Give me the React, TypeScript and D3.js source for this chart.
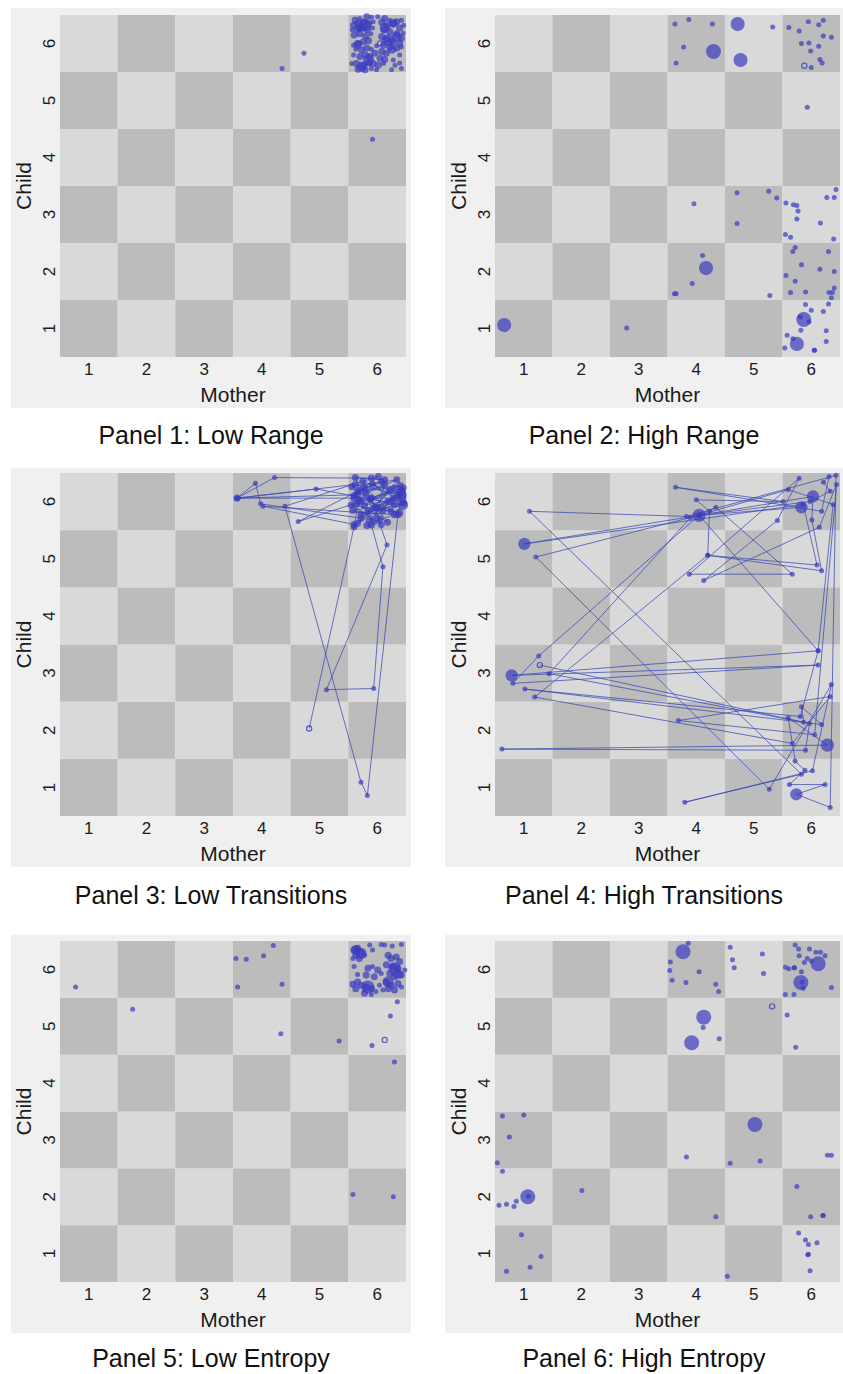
import React from 'react';
import * as d3 from 'd3';

// [mother, child, weight]
type Obs = [number, number, number];

const levels = [1, 2, 3, 4, 5, 6];
const xTitle = 'Mother';
const yTitle = 'Child';
const captions = [
  'Panel 1: Low Range',
  'Panel 2: High Range',
  'Panel 3: Low Transitions',
  'Panel 4: High Transitions',
  'Panel 5: Low Entropy',
  'Panel 6: High Entropy',
];

const lowRange: Obs[] = [
  [4.35, 5.56, 1], [4.73, 5.83, 1], [5.92, 4.32, 1],
  [5.62, 6.41, 2], [5.70, 6.44, 1], [5.82, 6.47, 2], [5.90, 6.46, 1], [6.01, 6.47, 1], [6.13, 6.44, 2],
  [6.22, 6.41, 1], [6.34, 6.38, 2], [6.42, 6.41, 1], [6.46, 6.32, 1], [5.59, 6.32, 2], [5.67, 6.35, 2],
  [5.76, 6.37, 2], [5.85, 6.35, 2], [5.93, 6.38, 1], [6.08, 6.37, 2], [6.18, 6.32, 2], [6.28, 6.34, 2],
  [6.39, 6.27, 2], [6.45, 6.18, 1], [5.57, 6.24, 1], [5.66, 6.25, 2], [5.74, 6.27, 2], [5.83, 6.24, 2],
  [5.92, 6.27, 1], [6.12, 6.24, 2], [6.22, 6.21, 2], [6.34, 6.17, 2], [6.42, 6.09, 2], [5.60, 6.15, 2],
  [5.70, 6.17, 2], [5.80, 6.13, 2], [5.89, 6.17, 1], [6.08, 6.12, 2], [6.18, 6.07, 2], [6.28, 6.03, 2],
  [6.39, 6.00, 2], [5.59, 5.97, 1], [5.67, 6.00, 2], [5.76, 6.03, 2], [5.85, 6.05, 2], [6.11, 5.97, 2],
  [6.22, 5.94, 2], [6.34, 5.92, 2], [6.42, 5.94, 1], [5.63, 5.90, 1], [5.73, 5.89, 2], [5.82, 5.92, 2],
  [5.90, 5.90, 1], [5.99, 5.96, 1], [6.08, 5.86, 2], [6.16, 5.83, 2], [5.59, 5.80, 1], [5.70, 5.77, 2],
  [5.79, 5.80, 2], [5.87, 5.77, 2], [5.96, 5.83, 2], [6.05, 5.74, 2], [6.13, 5.72, 2], [6.28, 5.71, 1],
  [6.39, 5.80, 1], [5.56, 5.65, 1], [5.64, 5.65, 2], [5.76, 5.62, 2], [5.85, 5.66, 2], [5.93, 5.65, 2],
  [6.02, 5.62, 2], [6.11, 5.65, 1], [6.31, 5.62, 1], [6.39, 5.66, 1], [5.67, 5.55, 2], [5.79, 5.54, 2],
  [5.90, 5.56, 1], [5.99, 5.54, 1], [6.25, 5.54, 1], [6.42, 5.56, 1],
  [5.79, 6.32, 6], [6.19, 6.06, 6], [5.85, 5.71, 5], [5.73, 5.59, 4], [6.13, 6.27, 4], [6.34, 6.12, 4],
  [5.70, 6.28, 3], [6.28, 6.36, 3], [6.26, 5.90, 3], [5.66, 5.98, 3],
];
const lowRangeEnd: [number, number] = [6.05, 6.0];

const highRange: Obs[] = [
  [3.63, 6.34, 1], [3.87, 6.42, 1], [4.28, 6.34, 1], [3.78, 5.94, 1], [3.65, 5.66, 1], [4.30, 5.86, 9],
  [4.72, 6.34, 8], [4.77, 5.71, 8], [5.33, 6.29, 1],
  [5.61, 6.28, 1], [5.95, 6.38, 1], [6.21, 6.41, 1], [6.13, 6.33, 1], [5.79, 6.22, 1], [6.21, 6.13, 1],
  [6.35, 6.11, 1], [5.83, 6.00, 1], [5.96, 6.01, 1], [6.13, 5.95, 1], [5.99, 5.87, 1], [6.15, 5.72, 1],
  [6.19, 5.66, 1], [6.00, 5.58, 1],
  [5.93, 4.88, 1],
  [3.96, 3.19, 1], [4.71, 3.38, 1], [5.26, 3.41, 1], [5.40, 3.29, 1], [4.71, 2.84, 1],
  [5.56, 3.20, 1], [5.69, 3.17, 1], [5.75, 3.16, 1], [5.77, 3.06, 1], [5.75, 2.92, 1], [6.16, 2.85, 1],
  [6.27, 3.30, 1], [6.40, 3.30, 1], [6.43, 3.44, 1], [5.55, 2.65, 1], [5.64, 2.60, 1], [6.39, 2.57, 1],
  [4.11, 2.28, 1], [4.17, 2.06, 8], [3.93, 1.79, 1], [3.62, 1.61, 1], [3.65, 1.61, 1], [5.28, 1.58, 1],
  [5.72, 2.42, 1], [5.68, 2.35, 1], [6.30, 2.35, 1], [5.83, 2.12, 1], [6.15, 2.04, 1], [6.40, 2.00, 1],
  [5.56, 1.93, 1], [5.72, 1.83, 1], [5.64, 1.63, 1], [5.90, 1.64, 1], [6.31, 1.63, 1], [6.40, 1.71, 1],
  [6.37, 1.63, 1], [6.35, 1.54, 1],
  [5.90, 1.42, 1], [6.30, 1.43, 1], [6.00, 1.32, 1], [6.21, 1.30, 1], [5.87, 1.16, 9], [5.81, 1.20, 1],
  [5.96, 1.12, 1], [5.82, 0.97, 1], [5.58, 0.88, 1], [6.26, 0.96, 1], [5.75, 0.73, 8], [5.68, 0.82, 1],
  [6.26, 0.77, 1], [5.54, 0.66, 1], [6.05, 0.62, 1], [6.06, 0.62, 1],
  [0.66, 1.06, 8], [2.79, 1.01, 1],
];
const highRangeEnd: [number, number] = [5.88, 5.61];

// visits in order (joined by a line)
const lowTransitions: Obs[] = [
  [6.07, 6.35, 2], [5.66, 6.18, 2], [6.30, 6.24, 2], [5.78, 5.94, 2], [6.42, 6.06, 4], [5.60, 6.06, 2],
  [3.57, 6.06, 2], [3.89, 6.32, 1], [3.98, 5.96, 1], [5.72, 5.71, 2], [6.19, 6.00, 2], [5.90, 6.41, 2],
  [4.22, 6.42, 1], [3.57, 6.06, 1], [5.62, 6.30, 2], [6.36, 6.12, 2], [5.84, 5.83, 2], [6.45, 5.94, 4],
  [4.94, 6.22, 1], [3.57, 6.06, 1], [5.66, 6.12, 2], [6.13, 6.30, 2], [5.95, 5.65, 2], [6.30, 5.77, 2],
  [4.02, 5.92, 1], [5.60, 5.60, 2], [6.01, 5.89, 2], [6.42, 6.18, 3], [5.72, 6.00, 2],
  [4.63, 5.65, 1], [5.78, 6.24, 2], [6.24, 5.83, 2], [5.55, 5.94, 2], [6.07, 5.60, 2],
  [5.62, 6.42, 2], [6.13, 6.38, 2], [5.70, 6.20, 2], [6.40, 6.28, 2], [5.88, 6.05, 2], [6.30, 5.96, 3],
  [5.58, 5.85, 2], [6.05, 5.70, 2], [5.75, 6.35, 2], [6.44, 6.12, 3], [5.66, 5.62, 2], [6.22, 6.20, 2],
  [5.95, 5.90, 2], [6.38, 5.80, 3], [5.60, 6.10, 2], [6.02, 6.44, 2],
  [4.40, 5.92, 1], [5.72, 1.09, 1], [5.83, 0.86, 1], [6.36, 5.77, 2], [6.45, 6.24, 2], [5.90, 6.06, 2],
  [6.17, 5.24, 1], [5.12, 2.71, 1], [5.94, 2.73, 1], [6.10, 4.86, 1], [5.90, 5.59, 2],
  [5.82, 5.58, 2], [6.28, 6.06, 2], [5.72, 5.78, 2], [6.46, 5.98, 2], [5.92, 6.30, 2], [5.64, 5.96, 2],
  [6.18, 5.64, 2], [5.80, 6.14, 2], [6.34, 6.38, 2], [5.56, 6.26, 2], [6.10, 5.84, 2], [5.86, 5.68, 2],
  [6.42, 6.20, 2], [5.68, 6.02, 2], [5.60, 5.56, 2],
];
const lowTransitionsEnd: [number, number] = [4.82, 2.03];

const highTransitions: Obs[] = [
  [5.83, 5.90, 6], [4.05, 5.76, 7], [5.98, 6.00, 1], [6.33, 6.18, 1], [6.21, 6.34, 1],
  [6.31, 6.44, 1], [6.18, 5.83, 1], [3.64, 6.25, 1], [5.51, 6.00, 1], [4.00, 6.03, 1], [4.23, 5.83, 1],
  [4.20, 5.06, 1], [6.10, 4.89, 1], [5.86, 5.95, 1], [1.01, 5.26, 6], [4.05, 5.76, 1], [1.21, 5.03, 1],
  [5.27, 0.97, 1], [6.35, 2.80, 1], [6.02, 1.29, 1], [3.80, 0.74, 1], [5.83, 1.23, 1], [1.10, 5.83, 1],
  [3.83, 5.74, 1], [6.43, 6.46, 1],
  [6.33, 0.65, 1], [5.74, 0.88, 6], [6.24, 1.05, 1], [5.62, 1.05, 1], [5.89, 1.30, 1], [5.72, 1.46, 1],
  [5.60, 2.22, 1], [6.28, 1.74, 7], [0.62, 1.67, 1], [5.90, 1.65, 1], [5.97, 2.12, 1], [1.44, 2.99, 1],
  [3.90, 5.72, 1], [5.60, 6.21, 1], [6.38, 5.95, 1], [6.12, 3.39, 1], [0.79, 2.96, 6], [6.12, 3.14, 1],
  [0.81, 2.82, 1], [1.26, 3.30, 1], [4.05, 5.76, 1], [4.34, 5.90, 1], [5.67, 4.73, 1], [3.88, 4.73, 1],
  [5.79, 6.41, 1], [5.41, 5.67, 1], [4.13, 4.62, 1], [6.14, 5.55, 1], [6.44, 6.30, 1], [6.06, 1.92, 1],
  [3.69, 2.17, 1], [6.33, 2.59, 1], [5.67, 1.77, 1], [1.19, 2.58, 1], [4.20, 5.06, 1], [6.18, 4.79, 1],
  [6.01, 5.68, 1], [6.03, 6.09, 6], [4.05, 5.76, 1], [6.12, 3.39, 1], [5.81, 2.24, 1], [1.02, 2.72, 1],
  [6.18, 2.10, 1], [5.83, 2.41, 1], [5.87, 2.14, 1],
];
const highTransitionsEnd: [number, number] = [1.28, 3.14];

const lowEntropy: Obs[] = [
  [3.55, 6.19, 1], [3.73, 6.18, 1], [4.03, 6.24, 1], [4.20, 6.42, 1], [3.58, 5.69, 1], [4.35, 5.74, 1],
  [4.33, 4.87, 1], [5.34, 4.74, 1], [6.35, 5.43, 1], [6.23, 5.18, 1], [5.91, 4.66, 1], [6.30, 4.37, 1],
  [0.77, 5.69, 1], [1.76, 5.30, 1], [5.58, 2.04, 1], [6.28, 2.00, 1],
  [5.60, 6.34, 2], [5.66, 6.37, 2], [5.72, 6.31, 2], [5.63, 6.25, 2], [5.58, 6.19, 1], [5.69, 6.19, 2],
  [5.78, 6.25, 1], [5.87, 6.43, 1], [5.92, 6.34, 1], [6.07, 6.44, 1], [6.13, 6.43, 1], [6.26, 6.41, 1],
  [6.42, 6.44, 1], [5.60, 6.05, 1], [5.66, 5.91, 1], [5.58, 5.74, 2], [5.63, 5.66, 2], [5.72, 5.72, 2],
  [5.81, 5.69, 2], [5.90, 5.66, 2], [5.98, 5.61, 1], [5.78, 5.58, 2], [5.90, 5.56, 1], [5.66, 5.78, 2],
  [5.84, 6.02, 2], [5.92, 6.05, 1], [6.01, 5.99, 2], [5.81, 5.90, 2], [5.95, 5.87, 2], [6.07, 5.93, 1],
  [6.19, 6.25, 2], [6.24, 6.19, 2], [6.33, 6.22, 2], [6.39, 6.14, 2], [6.16, 6.08, 2], [6.27, 6.05, 2],
  [6.36, 6.02, 2], [6.22, 5.93, 2], [6.30, 5.87, 2], [6.42, 5.90, 2], [6.16, 5.78, 2], [6.24, 5.72, 2],
  [6.36, 5.75, 2], [6.19, 5.66, 2], [6.30, 5.64, 2], [6.04, 5.72, 1], [6.10, 5.64, 1], [6.42, 5.69, 1],
  [6.48, 5.99, 1],
  [5.72, 6.28, 5], [5.84, 5.69, 7], [6.30, 6.02, 6], [6.19, 5.78, 5], [5.63, 6.34, 4], [6.36, 5.92, 4],
];
const lowEntropyEnd: [number, number] = [6.13, 4.76];

const highEntropy: Obs[] = [
  [3.77, 6.31, 9], [3.86, 6.46, 1], [3.55, 6.13, 1], [3.54, 5.98, 1], [3.58, 5.81, 1], [3.82, 5.77, 1],
  [4.05, 5.96, 1], [4.34, 5.74, 1], [4.39, 5.61, 1], [4.59, 6.39, 1], [4.63, 6.17, 1], [4.66, 6.03, 1],
  [5.15, 6.27, 1], [5.17, 5.93, 1],
  [5.72, 6.43, 1], [5.78, 6.36, 1], [5.97, 6.36, 1], [6.08, 6.30, 1], [6.16, 6.30, 1], [6.24, 6.24, 1],
  [5.79, 6.24, 1], [5.93, 6.19, 1], [5.88, 6.12, 1], [6.00, 6.15, 1], [6.12, 6.10, 9], [5.55, 6.04, 1],
  [5.61, 6.01, 1], [5.70, 6.03, 1], [5.71, 6.03, 1], [5.83, 5.96, 1], [5.82, 5.77, 9], [5.84, 5.78, 1],
  [5.86, 5.67, 1], [5.55, 5.56, 1], [5.70, 5.56, 1], [6.35, 5.68, 1],
  [4.13, 5.16, 9], [4.12, 4.98, 1], [3.92, 4.71, 9], [4.40, 4.78, 1], [5.58, 5.20, 1], [5.73, 4.63, 1],
  [0.63, 3.42, 1], [1.00, 3.44, 1], [0.75, 3.05, 1], [0.54, 2.60, 1], [0.63, 2.45, 1], [3.83, 2.70, 1],
  [5.02, 3.27, 9], [4.59, 2.59, 1], [5.11, 2.63, 1], [6.28, 2.73, 1], [6.35, 2.73, 1],
  [1.07, 2.00, 9], [1.08, 2.01, 1], [0.57, 1.85, 1], [0.70, 1.87, 1], [0.83, 1.83, 1], [0.87, 1.92, 1],
  [2.01, 2.11, 1], [4.34, 1.65, 1], [5.75, 2.18, 1], [5.99, 1.65, 1], [6.20, 1.67, 1], [6.21, 1.67, 1],
  [0.96, 1.33, 1], [1.30, 0.95, 1], [1.11, 0.76, 1], [0.70, 0.69, 1], [4.54, 0.60, 1], [5.78, 1.36, 1],
  [5.90, 1.24, 1], [5.95, 1.16, 1], [6.10, 1.19, 1], [5.94, 0.98, 1], [5.95, 0.99, 1], [5.98, 0.70, 1],
];
const highEntropyEnd: [number, number] = [5.32, 5.35];

const FONT = '"Liberation Sans", Arial, Helvetica, sans-serif';
const LIGHT = '#d9d9d9';
const DARK = '#bcbcbc';
const FRAME = '#f0f0f0';
const DOT = '#3b3bbf';
const LINE = '#3b4bb3';

const colBoxes = [
  { bx: 11, bw: 400, px0: 60, px1: 406 },
  { bx: 445, bw: 398, px0: 495, px1: 840 },
];
const rowBoxes = [
  { by: 8, bh: 400, py0: 15, py1: 357, cap: 435 },
  { by: 468, bh: 399, py0: 473, py1: 816, cap: 895 },
  { by: 935, bh: 398, py0: 941, py1: 1282, cap: 1358 },
];

const radius = d3.scaleSqrt().domain([0, 9]).range([0, 7.5]);

function Panel({ idx, data, end, joined }: { idx: number; data: Obs[]; end: [number, number]; joined?: boolean }) {
  const c = colBoxes[idx % 2];
  const r = rowBoxes[Math.floor(idx / 2)];
  const x = d3.scaleLinear().domain([0.5, 6.5]).range([c.px0, c.px1]);
  const y = d3.scaleLinear().domain([0.5, 6.5]).range([r.py1, r.py0]);

  const cells = levels.flatMap((m) => levels.map((k) => ({ m, k })));
  const line = d3.line<[number, number]>().x((d) => x(d[0])).y((d) => y(d[1]));
  const pathPts: [number, number][] = [...data.map((d) => [d[0], d[1]] as [number, number]), end];

  return (
    <g>
      <rect x={c.bx} y={r.by} width={c.bw} height={r.bh} fill={FRAME} />
      {cells.map(({ m, k }) => (
        <rect
          key={`${m}-${k}`}
          x={x(m - 0.5)}
          y={y(k + 0.5)}
          width={x(m + 0.5) - x(m - 0.5)}
          height={y(k - 0.5) - y(k + 0.5)}
          fill={(m + k) % 2 === 0 ? DARK : LIGHT}
        />
      ))}
      {joined && (
        <path d={line(pathPts) || ''} fill="none" stroke={LINE} strokeWidth={0.9} strokeOpacity={0.85} />
      )}
      {data.map((d, i) => (
        <circle key={i} cx={x(d[0])} cy={y(d[1])} r={radius(d[2])} fill={DOT} fillOpacity={0.7} />
      ))}
      <circle cx={x(end[0])} cy={y(end[1])} r={2.6} fill="none" stroke={DOT} strokeOpacity={0.8} strokeWidth={1.2} />
      {levels.map((v) => (
        <text key={`x${v}`} x={x(v)} y={r.py1 + 12} textAnchor="middle" dominantBaseline="central"
          fontSize={17} fill="#1a1a1a" fontFamily={FONT}>{v}</text>
      ))}
      {levels.map((v) => (
        <text key={`y${v}`} transform={`translate(${c.px0 - 11},${y(v)}) rotate(-90)`} textAnchor="middle"
          dominantBaseline="central" fontSize={17} fill="#1a1a1a" fontFamily={FONT}>{v}</text>
      ))}
      <text x={(c.px0 + c.px1) / 2} y={r.py1 + 37} textAnchor="middle" dominantBaseline="central"
        fontSize={21} fill="#1a1a1a" fontFamily={FONT}>{xTitle}</text>
      <text transform={`translate(${c.px0 - 37},${(r.py0 + r.py1) / 2}) rotate(-90)`} textAnchor="middle"
        dominantBaseline="central" fontSize={21} fill="#1a1a1a" fontFamily={FONT}>{yTitle}</text>
      <text x={c.bx + c.bw / 2} y={r.cap} textAnchor="middle" dominantBaseline="central"
        fontSize={25} fill="#111" fontFamily={FONT}>{captions[idx]}</text>
    </g>
  );
}

export default function App() {
  return (
    <svg width={843} height={1374} style={{ position: 'absolute', left: 0, top: 0, background: '#fff' }}>
      <Panel idx={0} data={lowRange} end={lowRangeEnd} />
      <Panel idx={1} data={highRange} end={highRangeEnd} />
      <Panel idx={2} data={lowTransitions} end={lowTransitionsEnd} joined />
      <Panel idx={3} data={highTransitions} end={highTransitionsEnd} joined />
      <Panel idx={4} data={lowEntropy} end={lowEntropyEnd} />
      <Panel idx={5} data={highEntropy} end={highEntropyEnd} />
    </svg>
  );
}
